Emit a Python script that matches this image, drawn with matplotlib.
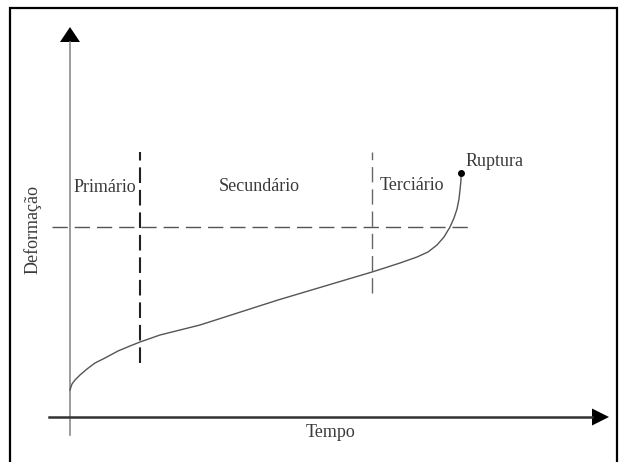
import matplotlib.pyplot as plt

# creep curve (schematic), time vs deformation in arbitrary units
tempo = [0.0, 0.2, 0.5, 1.0, 1.7, 2.5, 3.5, 4.8, 6.0, 7.0, 9.0, 11.0,
         13.0, 20.8, 30.2, 31.3, 33.0, 34.7, 35.8, 36.7, 37.4, 38.0,
         38.4, 38.7, 38.9, 39.0, 39.1, 39.1]
deform = [2.7, 3.3, 3.7, 4.2, 4.8, 5.4, 5.9, 6.6, 7.1, 7.5, 8.2, 8.7,
          9.2, 11.7, 14.5, 14.85, 15.4, 16.0, 16.5, 17.2, 18.0, 19.0,
          19.9, 20.8, 21.8, 22.7, 23.7, 24.4]

t_primario = 7.0      # end of primary stage
t_terciario = 30.2    # start of tertiary stage
e_ref = 19.0          # horizontal reference line

stage_names = ['Primário', 'Secundário', 'Terciário']
stage_pos = [3.45, 18.9, 34.2]
stage_base = [22.5, 22.6, 22.7]

fig = plt.figure(figsize=(6.23, 4.62), dpi=100)
ax = fig.add_axes([0, 0, 1, 1])
ax.set_xlim(-7, 55.3)
ax.set_ylim(-4.5, 41.7)
ax.axis('off')

serif = ['Liberation Serif', 'DejaVu Serif']
txt = '#3a3a3a'

# outer frame
ax.plot([-6, -6, 54.7, 54.7], [-6, 40.9, 40.9, -6], color='black', lw=1.6,
        solid_joinstyle='miter', clip_on=False)

# axes with arrow heads
ax.plot([0, 0], [-1.8, 37.5], color='#8a8a8a', lw=1.2)
ax.fill([-1.0, 1.0, 0], [37.5, 37.5, 39.0], color='black', lw=0)
ax.plot([-2.1, 52.2], [0, 0], color='#333333', lw=1.8)
ax.fill([52.2, 52.2, 53.9], [-0.85, 0.85, 0], color='black', lw=0)

# dashed reference lines
h, = ax.plot([-1.8, 40.3], [e_ref, e_ref], color='#555555', lw=1.0)
h.set_dashes([11, 5])
v1, = ax.plot([t_primario, t_primario], [5.4, 26.5], color='#222222', lw=1.5)
v1.set_dashes([7.5, 3.3])
v2, = ax.plot([t_terciario, t_terciario], [12.4, 26.5], color='#666666', lw=1.0)
v2.set_dashes([11, 5])

# creep curve and rupture point
ax.plot(tempo, deform, color='#555555', lw=1.0, solid_joinstyle='round')
ax.plot(tempo[-1], deform[-1], 'o', color='black', ms=4)

for name, x, y in zip(stage_names, stage_pos, stage_base):
    ax.text(x, y, name, ha='center', va='baseline', fontsize=13,
            family=serif, color=txt)
ax.text(42.45, 25.1, 'Ruptura', ha='center', va='baseline', fontsize=13,
        family=serif, color=txt)
ax.text(26.1, -2.0, 'Tempo', ha='center', va='baseline', fontsize=13,
        family=serif, color=txt)
ax.text(-3.7, 18.8, 'Deformação', ha='center', va='center', rotation=90,
        fontsize=13, family=serif, color=txt)

fig.savefig('out.png', dpi=100)
